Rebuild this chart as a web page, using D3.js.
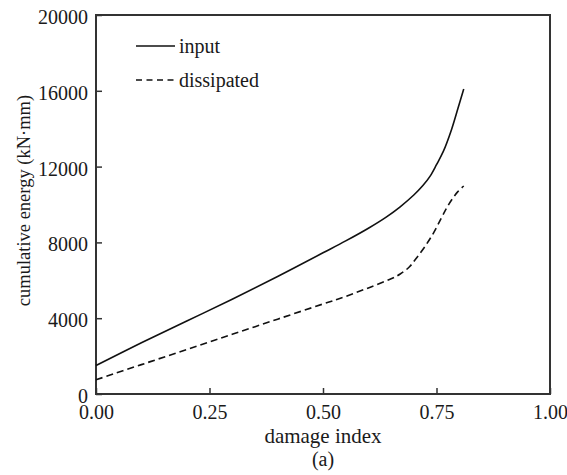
<!DOCTYPE html>
<html>
<head>
<meta charset="utf-8">
<script src="https://cdn.jsdelivr.net/npm/d3@7"></script>
<style>
  html, body { margin: 0; padding: 0; background: #fff; }
  svg { display: block; }
  svg text { font-family: "Liberation Serif", "Times New Roman", Times, "DejaVu Serif", serif; fill: #1a1a1a; }
</style>
</head>
<body>
<svg id="chart" width="567" height="475"></svg>
<script>
// ---- data ----
const inputX = [0, 0.1, 0.2, 0.3, 0.4, 0.5, 0.55, 0.6, 0.64, 0.67, 0.7, 0.72, 0.736, 0.75, 0.765, 0.783, 0.797, 0.81];
const inputY = [1500, 2700, 3850, 5000, 6200, 7450, 8080, 8750, 9350, 9880, 10500, 11000, 11500, 12100, 12800, 13950, 15050, 16100];
const dissX = [0, 0.1, 0.2, 0.3, 0.4, 0.5, 0.55, 0.6, 0.65, 0.67, 0.69, 0.706, 0.725, 0.743, 0.76, 0.772, 0.785, 0.797, 0.81];
const dissY = [750, 1550, 2350, 3150, 3950, 4750, 5150, 5600, 6080, 6330, 6700, 7180, 7800, 8480, 9250, 9800, 10300, 10680, 10976];
const xTicks = [0, 0.25, 0.5, 0.75, 1.0];
const yTicks = [0, 4000, 8000, 12000, 16000, 20000];
const seriesNames = ["input", "dissipated"];
const xTitle = "damage index";
const yTitle = "cumulative energy (kN\u00b7mm)";
const caption = "(a)";

// ---- layout ----
const FONT = '"Liberation Serif", "Times New Roman", Times, "DejaVu Serif", serif';
const svg = d3.select("#chart");
const L = 96, R = 550, T = 15, B = 394;
const x = d3.scaleLinear().domain([0, 1]).range([L, R]);
const y = d3.scaleLinear().domain([0, 20000]).range([B, T]);
const axisColor = "#333";
const fs = 20;

// frame
svg.append("rect").attr("x", L).attr("y", T).attr("width", R - L).attr("height", B - T)
  .attr("fill", "none").attr("stroke", axisColor).attr("stroke-width", 2);

// x axis
const xAxis = d3.axisBottom(x).tickValues(xTicks).tickFormat(d3.format(".2f")).tickSizeInner(-6).tickSizeOuter(0).tickPadding(11);
const gx = svg.append("g").attr("transform", `translate(0,${B})`).call(xAxis);
gx.attr("font-family", FONT).attr("font-size", fs);
gx.select(".domain").remove();
gx.selectAll("line").attr("stroke", axisColor).attr("stroke-width", 1.5);
gx.selectAll("text").attr("font-size", fs).attr("fill", "#1a1a1a").attr("font-family", FONT);

// y axis
const yAxis = d3.axisLeft(y).tickValues(yTicks).tickFormat(d3.format("d")).tickSizeInner(-6).tickSizeOuter(0).tickPadding(8);
const gy = svg.append("g").attr("transform", `translate(${L},0)`).call(yAxis);
gy.attr("font-family", FONT).attr("font-size", fs);
gy.select(".domain").remove();
gy.selectAll("line").attr("stroke", axisColor).attr("stroke-width", 1.5);
gy.selectAll("text").attr("font-size", fs).attr("fill", "#1a1a1a").attr("dy", "0.42em").attr("font-family", FONT);

// titles
svg.append("text").attr("x", (L + R) / 2).attr("y", 443).attr("text-anchor", "middle").attr("font-size", 21).attr("font-family", FONT).text(xTitle);
svg.append("text").attr("x", (L + R) / 2).attr("y", 466).attr("text-anchor", "middle").attr("font-size", fs).attr("font-family", FONT).text(caption);
svg.append("text").attr("transform", `translate(30,${(T + B) / 2 - 4}) rotate(-90)`)
  .attr("text-anchor", "middle").attr("font-size", 18.5).attr("font-family", FONT).text(yTitle);

// lines
const line = d3.line().x(d => x(d[0])).y(d => y(d[1])).curve(d3.curveCatmullRom.alpha(0.5));
const inputData = inputX.map((v, i) => [v, inputY[i]]);
const dissData = dissX.map((v, i) => [v, dissY[i]]);
svg.append("path").datum(inputData).attr("d", line).attr("fill", "none")
  .attr("stroke", "#111").attr("stroke-width", 1.6);
svg.append("path").datum(dissData).attr("d", line).attr("fill", "none")
  .attr("stroke", "#111").attr("stroke-width", 1.6).attr("stroke-dasharray", "7,4");

// legend
const leg = [{ name: seriesNames[0], y: 46, dash: null }, { name: seriesNames[1], y: 80, dash: "6,4.5" }];
leg.forEach(l => {
  svg.append("line").attr("x1", 136).attr("x2", 175).attr("y1", l.y).attr("y2", l.y)
    .attr("stroke", "#111").attr("stroke-width", 1.6).attr("stroke-dasharray", l.dash);
  svg.append("text").attr("x", 179).attr("y", l.y + 7).attr("font-size", fs).attr("font-family", FONT).text(l.name);
});
</script>
</body>
</html>
